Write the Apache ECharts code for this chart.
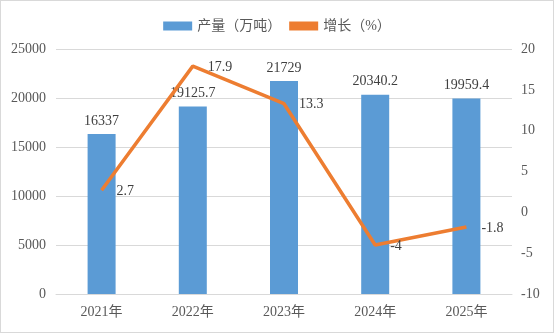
<!DOCTYPE html>
<html><head><meta charset="utf-8">
<script src="https://cdn.jsdelivr.net/npm/echarts@6/dist/echarts.min.js"></script>
<style>html,body{margin:0;padding:0;background:#fff}#c{width:554px;height:333px;box-sizing:border-box;border:1px solid #d9d9d9}</style>
</head><body><div id="c"></div>
<script>
const categories = ['2021年','2022年','2023年','2024年','2025年'];
const output = [16337, 19125.7, 21729, 20340.2, 19959.4];
const growth = [2.7, 17.9, 13.3, -4, -1.8];
const seriesNames = ['产量（万吨）','增长（%）'];
const FONT = '"Liberation Serif","Noto Sans CJK SC",serif';
const chart = echarts.init(document.getElementById('c'));
chart.setOption({
  animation:false,
  textStyle:{fontFamily:FONT},
  legend:{top:13,left:'center',itemWidth:29,itemHeight:9,itemGap:8,
    textStyle:{fontSize:14,color:'#595959',fontFamily:FONT},
    data:[{name:seriesNames[0],icon:'rect'},{name:seriesNames[1],icon:'rect',itemStyle:{color:'#ED7D31'}}]},
  grid:{left:55,right:41,top:48,bottom:38},
  xAxis:{type:'category',data:categories,axisTick:{show:false},
    axisLine:{lineStyle:{color:'#d9d9d9'}},
    axisLabel:{color:'#595959',fontSize:14,margin:11,fontFamily:FONT}},
  yAxis:[
    {type:'value',min:0,max:25000,interval:5000,axisLine:{show:false},axisTick:{show:false},
     splitLine:{lineStyle:{color:'#d9d9d9'}},
     axisLabel:{color:'#595959',fontSize:14,margin:10,fontFamily:FONT,formatter:v=>String(v)}},
    {type:'value',min:-10,max:20,interval:5,axisLine:{show:false},axisTick:{show:false},
     splitLine:{show:false},axisLabel:{color:'#595959',fontSize:14,margin:9,fontFamily:FONT}}
  ],
  series:[
    {name:seriesNames[0],type:'bar',data:output,barWidth:28,itemStyle:{color:'#5B9BD5'},
     label:{show:true,position:'top',distance:6,color:'#404040',fontSize:14,fontFamily:FONT}},
    {name:seriesNames[1],type:'line',yAxisIndex:1,data:growth,symbol:'circle',symbolSize:0,showSymbol:true,
     lineStyle:{color:'#ED7D31',width:3.5},itemStyle:{color:'#ED7D31'},
     label:{show:true,position:'right',distance:15,offset:[0,1],color:'#404040',fontSize:14,fontFamily:FONT}}
  ]
});
</script></body></html>
